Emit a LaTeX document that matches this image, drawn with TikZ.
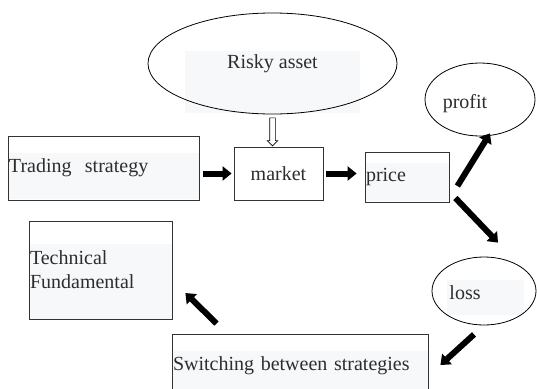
\documentclass[tikz,border=0pt]{standalone}
\usepackage{fontspec}
\setmainfont{Liberation Serif}
\usetikzlibrary{shapes.geometric,shapes.arrows,arrows.meta,calc}
\definecolor{bgfill}{RGB}{247,248,250}
\definecolor{ink}{RGB}{45,45,45}
\begin{document}
\begin{tikzpicture}[x=1pt,y=-1pt,
  every node/.style={text=ink, font=\fontsize{20}{24}\selectfont},
  box/.style={draw=black!80, line width=0.8pt, inner xsep=1pt, inner ysep=0pt, align=left},
  oval/.style={ellipse, draw=black, line width=0.8pt, inner sep=0pt},
  fat/.style={line width=6pt, -{Triangle[length=9pt,width=14pt]}, black},
  txt/.style={inner sep=0pt}
]
\useasboundingbox[fill=white] (0,0) rectangle (537,388);
% light text backgrounds
\fill[bgfill] (8,153) rectangle (199,199);
\fill[bgfill] (365,163) rectangle (449,201);
\fill[bgfill] (29,244) rectangle (172,319);
\fill[bgfill] (172,351) rectangle (428,398);
\fill[bgfill] (185,51) rectangle (360,113);
\fill[bgfill] (447,280) rectangle (524,315);

% nodes
\node[oval, minimum width=249pt, minimum height=101pt] (risky) at (272.5,63.5) {Risky asset};
\node[box, minimum height=64pt, text width=189pt] (trade) at (103.5,168) {Trading~~strategy};
\node[box, align=center, minimum width=89pt, minimum height=53pt] (market) at (278.5,173.5) {market};
\node[box, minimum height=50pt, text width=82pt] (price) at (407,177) {price};
\node[oval, minimum width=110pt, minimum height=73pt] (profit) at (480,99.5) {};
\node[txt] (profittext) at (465,104) {profit};
\node[oval, minimum width=104pt, minimum height=68pt] (loss) at (484,291) {};
\node[txt] (losstext) at (465,293) {loss};
\node[box, minimum height=98pt, text width=141pt] (tech) at (100.5,270) {Technical\\Fundamental};
\node[box, minimum height=64pt, text width=254pt] (switch) at (300,366) {Switching between strategies};

% hollow arrow
\node[single arrow, draw=black, line width=0.6pt, fill=white, shape border rotate=270,
  minimum height=28pt, minimum width=10pt, inner sep=2.5pt, single arrow head extend=2.5pt]
  (hollow) at ($(risky.south)!0.5!(risky.south |- market.north)$) {};

% thick arrows
\draw[fat] ([xshift=4pt]trade.east |- market.west) -- ([xshift=-2pt]market.west);
\draw[fat] ([xshift=3pt]market.east) -- ([xshift=-8pt]market.east -| price.west);
\draw[fat] ([shift={(8,9)}]price.east) -- ([shift={(10,-3)}]profit.south);
\draw[fat] ([shift={(6,21)}]price.east) -- ([shift={(14,-14)}]loss.north);
\draw[fat] ([shift={(-10,9)}]loss.south) -- ([shift={(12,-1)}]switch.east);
\draw[fat] ([shift={(45,-10)}]switch.north west) -- ([shift={(13,23)}]tech.east);
\end{tikzpicture}
\end{document}
